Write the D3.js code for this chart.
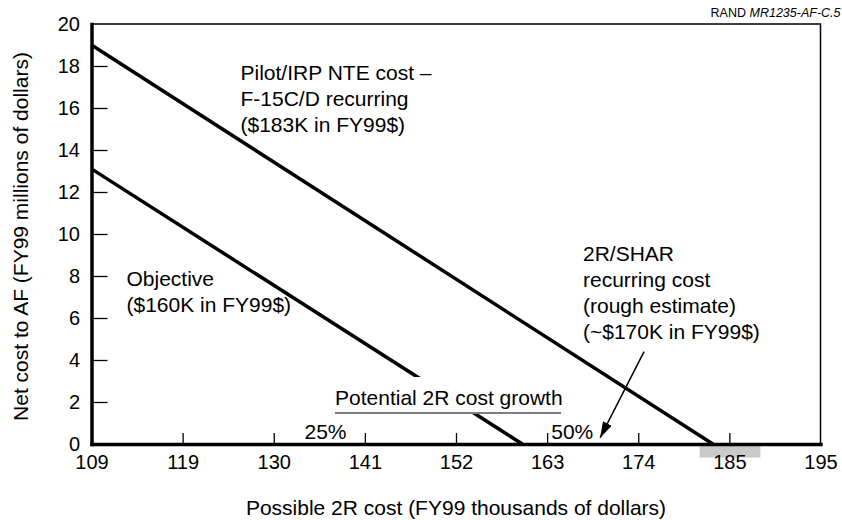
<!DOCTYPE html>
<html lang="en">
  <head>
    <meta charset="utf-8">
    <title>Net cost to AF vs possible 2R cost</title>
    <script src="https://cdn.jsdelivr.net/npm/d3@7"></script>
    <style>
      body { margin: 0; background: #fff; }
      svg text { font-family: "Liberation Sans", Arial, Helvetica, sans-serif; fill: #000; }
    </style>
  </head>
  <body>
    <script type="text/javascript">
      // tick labels (x axis is spaced by 10% steps of 109, labels rounded)
      var xTicks = [109, 119, 130, 141, 152, 163, 174, 185, 195];
      var yTicks = [0, 2, 4, 6, 8, 10, 12, 14, 16, 18, 20];

      // cost lines: [2R cost, net cost]
      var nteLine = [[109, 19.0], [183, 0]];
      var objectiveLine = [[109, 13.1], [160, 0]];

      // 2R/SHAR arrow, tail -> tip
      var sharArrow = [[174.7, 4.4], [169.4, 0.3]];

      // shaded range under the axis near the NTE cost
      var grayBand = [181.4, 188.4];

      // cost growth marks
      var growthMarks = [{label: "25%", value: 136.25, anchor: "middle"},
                         {label: "50%", value: 163.5, anchor: "start"}];

      var w = 842;
      var h = 520;
      // plot box (note: "top" is reserved on window, so use a box object)
      var box = {left: 91.5, right: 820.5, top: 24, bottom: 444};

      var step = (box.right - box.left) / (xTicks.length - 1);
      var xScale = d3.scaleLinear()
                     .domain(xTicks)
                     .range(xTicks.map(function(d, i) { return box.left + i * step; }));

      var yScale = d3.scaleLinear()
                     .domain([0, 20])
                     .range([box.bottom, box.top]);

      var svg = d3.select("body")
                  .append("svg")
                  .attr("width", w)
                  .attr("height", h);

      // gray band below the axis
      svg.append("rect")
         .attr("x", xScale(grayBand[0]))
         .attr("y", box.bottom + 1)
         .attr("width", xScale(grayBand[1]) - xScale(grayBand[0]))
         .attr("height", 12.5)
         .attr("fill", "#c9c9c9");

      // thin frame top and right
      svg.append("path")
         .attr("d", "M" + box.left + "," + box.top + "H" + box.right + "V" + box.bottom)
         .attr("fill", "none")
         .attr("stroke", "#000")
         .attr("stroke-width", 1.5);

      var xAxis = d3.axisBottom(xScale)
                    .tickValues(xTicks)
                    .tickFormat(d3.format("d"))
                    .tickSizeInner(-11)
                    .tickSizeOuter(0)
                    .tickPadding(11);

      var yAxis = d3.axisLeft(yScale)
                    .tickValues(yTicks)
                    .tickFormat(d3.format("d"))
                    .tickSizeInner(-16)
                    .tickSizeOuter(0)
                    .tickPadding(11.5);

      var gx = svg.append("g")
                  .attr("transform", "translate(0," + box.bottom + ")")
                  .call(xAxis);

      var gy = svg.append("g")
                  .attr("transform", "translate(" + box.left + ",0)")
                  .call(yAxis);

      [gx, gy].forEach(function(g) {
        g.selectAll("text")
         .attr("font-size", 20)
         .attr("font-family", null)
         .attr("fill", "#000");
        g.selectAll(".tick line")
         .attr("stroke", "#000")
         .attr("stroke-width", 1.3);
        g.select(".domain")
         .attr("stroke", "#000")
         .attr("stroke-width", 3.5)
         .attr("stroke-linecap", "square");
      });
      // no tick marks at the ends
      gx.selectAll(".tick line").filter(function(d) { return d === 109 || d === 195; }).remove();
      gy.selectAll(".tick line").filter(function(d) { return d === 0 || d === 20; }).remove();

      // cost lines
      var line = d3.line()
                   .x(function(d) { return xScale(d[0]); })
                   .y(function(d) { return yScale(d[1]); });

      svg.selectAll(".costLine")
         .data([nteLine, objectiveLine])
         .enter()
         .append("path")
         .attr("class", "costLine")
         .attr("d", line)
         .attr("fill", "none")
         .attr("stroke", "#000")
         .attr("stroke-width", 3.5);

      // arrow
      var defs = svg.append("defs");
      defs.append("marker")
          .attr("id", "head")
          .attr("viewBox", "0 0 16 10")
          .attr("refX", 16)
          .attr("refY", 5)
          .attr("markerUnits", "userSpaceOnUse")
          .attr("markerWidth", 16)
          .attr("markerHeight", 10)
          .attr("orient", "auto")
          .append("path")
          .attr("d", "M0,0L16,5L0,10Z")
          .attr("fill", "#000");

      svg.append("path")
         .attr("d", line(sharArrow))
         .attr("fill", "none")
         .attr("stroke", "#000")
         .attr("stroke-width", 1.5)
         .attr("marker-end", "url(#head)");

      // growth marks
      svg.selectAll(".growth")
         .data(growthMarks)
         .enter()
         .append("text")
         .attr("class", "growth")
         .attr("x", function(d) { return xScale(d.value); })
         .attr("y", 438.5)
         .attr("text-anchor", function(d) { return d.anchor; })
         .attr("font-size", 21)
         .text(function(d) { return d.label; });

      // white knockout behind the cost growth caption (line passes under it)
      svg.append("rect")
         .attr("x", 332)
         .attr("y", 377)
         .attr("width", 232)
         .attr("height", 37)
         .attr("fill", "#fff");

      svg.append("text")
         .attr("x", 335)
         .attr("y", 405)
         .attr("font-size", 21)
         .text("Potential 2R cost growth");

      svg.append("line")
         .attr("x1", 335).attr("x2", 561)
         .attr("y1", 413).attr("y2", 413)
         .attr("stroke", "#000")
         .attr("stroke-width", 1.2);

      // annotation blocks
      function block(x, y, lines) {
        var t = svg.append("text")
                   .attr("font-size", 21);
        lines.forEach(function(s, i) {
          t.append("tspan")
           .attr("x", x)
           .attr("y", y + i * 26)
           .text(s);
        });
      }

      block(240.5, 80, ["Pilot/IRP NTE cost \u2013", "F-15C/D recurring", "($183K in FY99$)"]);
      block(126.5, 286, ["Objective", "($160K in FY99$)"]);
      block(583, 261, ["2R/SHAR", "recurring cost", "(rough estimate)", "(~$170K in FY99$)"]);

      // axis titles
      svg.append("text")
         .attr("transform", "translate(28,236.5) rotate(-90)")
         .attr("text-anchor", "middle")
         .attr("font-size", 21)
         .text("Net cost to AF (FY99 millions of dollars)");

      svg.append("text")
         .attr("x", (box.left + box.right) / 2)
         .attr("y", 515)
         .attr("text-anchor", "middle")
         .attr("font-size", 21)
         .text("Possible 2R cost (FY99 thousands of dollars)");

      // source tag
      var tag = svg.append("text")
                   .attr("x", 840.5)
                   .attr("y", 17)
                   .attr("text-anchor", "end")
                   .attr("font-size", 12.5);
      tag.append("tspan").text("RAND ");
      tag.append("tspan").attr("font-style", "italic").text("MR1235-AF-C.5");
    </script>
  </body>
</html>
